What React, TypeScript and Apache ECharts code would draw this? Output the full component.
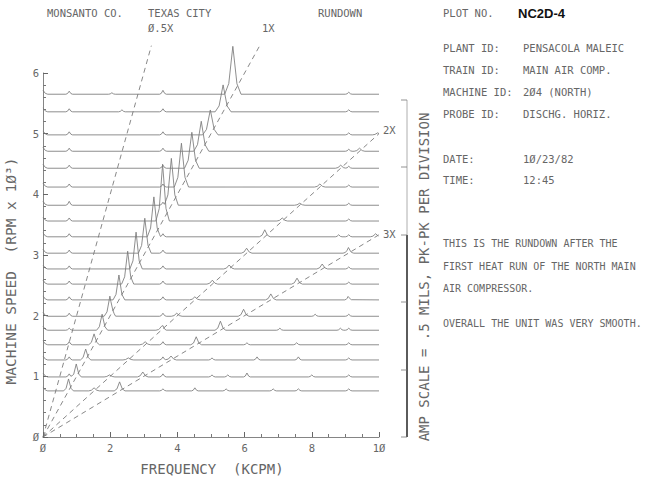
import React, { useEffect, useRef } from 'react';
import * as echarts from 'echarts';

// Machine speed of each rundown trace (RPM x 10^3), bottom to top
const rpm = [0.76, 0.99, 1.27, 1.52, 1.76, 1.99, 2.26, 2.52, 2.77, 3.03, 3.30, 3.56, 3.82, 4.12, 4.43, 4.71, 4.98, 5.36, 5.65];
// Amplitudes in mils pk-pk, one per trace
const amp1X = [0.082, 0.089, 0.075, 0.075, 0.110, 0.137, 0.171, 0.226, 0.253, 0.240, 0.274, 0.390, 0.322, 0.301, 0.247, 0.206, 0.171, 0.185, 0.329];
const amp2X = [0.021, 0.014, 0.014, 0.021, 0.021, 0.021, 0.021, 0.027, 0.027, 0.034, 0.048, 0.021, 0.014, 0.021, 0.021, 0.021, 0.014, 0, 0];
const amp3X = [0.062, 0.034, 0.027, 0.055, 0.062, 0.048, 0.041, 0.041, 0.034, 0.027, 0.021, 0, 0, 0, 0, 0, 0, 0, 0];
// Fixed-frequency components (kCPM) present in every trace
const fixedFreq = [0.78, 3.57, 9.1];
const ampFixA = [0, 0.021, 0.021, 0.021, 0.014, 0.021, 0.021, 0.021, 0.021, 0.021, 0.021, 0.021, 0.027, 0.021, 0.021, 0.021, 0.021, 0.021, 0.021];
const ampFixB = [0.014, 0.021, 0.021, 0.021, 0.021, 0.021, 0.021, 0.021, 0.021, 0.021, 0.021, 0, 0.021, 0.021, 0.021, 0.021, 0.021, 0.021, 0.027];
const ampFixC = [0.014, 0.014, 0.014, 0.014, 0.014, 0.014, 0.014, 0.014, 0.014, 0.014, 0.014, 0.014, 0.014, 0.014, 0.014, 0.014, 0.014, 0.014, 0.014];
const ampDC = 0.027;
// Other small peaks per trace: [kCPM, mils]
const otherPeaks = [
  [[4.52, 0.021], [5.45, 0.014], [6.85, 0.014], [7.6, 0.014]],
  [[5.03, 0.014], [5.5, 0.014], [6.07, 0.027], [8.0, 0.014]],
  [[5.03, 0.014], [6.37, 0.021], [7.6, 0.021]],
  [[6.07, 0.014], [7.55, 0.014]],
  [[7.05, 0.014], [8.85, 0.014]],
  [[2.07, 0.014], [8.1, 0.014]],
  [[9.08, 0.014]],
  [], [], [], [[8.8, 0.014]], [], [], [], [], [], [], [[2.35, 0.014]], [[2.05, 0.010]],
];

const orderLabels = ['Ø.5X', '1X', '2X', '3X'];
const orderRatio = [0.5, 1, 2, 3];
const xTickLabels = ['Ø', '2', '4', '6', '8', '1Ø'];
const yTickLabels = ['Ø', '1', '2', '3', '4', '5', '6'];

const MIL_TO_Y = 2.4; // vertical units per mil on the RPM axis (0.5 mil per division)

function kernel(d: number) {
  if (d >= 1) return 0;
  if (d <= 0.5) return 1 - 1.56 * d;
  return 0.22 * (1 - d) / 0.5;
}

function buildTrace(i: number) {
  const r = rpm[i];
  const w1 = 0.13 + 0.02 * r;
  const peaks: number[][] = [
    [0, ampDC, 0.14],
    [r, amp1X[i], w1],
    [2 * r, amp2X[i], 0.16],
    [3 * r, amp3X[i], 0.16],
    [fixedFreq[0], ampFixA[i], 0.1],
    [fixedFreq[1], ampFixB[i], 0.1],
    [fixedFreq[2], ampFixC[i], 0.1],
    ...otherPeaks[i].map((p) => [p[0], p[1], 0.1]),
  ].filter((p) => p[1] > 0 && p[0] - p[2] < 10);
  const xs = new Set<number>([0, 10]);
  peaks.forEach(([f, , w]) => {
    [f - w, f - w / 2, f, f + w / 2, f + w].forEach((x) => {
      if (x >= 0 && x <= 10) xs.add(Math.round(x * 1000) / 1000);
    });
  });
  const arr = Array.from(xs).sort((a, b) => a - b);
  return arr.map((x) => {
    let y = r;
    peaks.forEach(([f, a, w]) => {
      y += kernel(Math.abs(x - f) / w) * a * MIL_TO_Y;
    });
    return [x, y];
  });
}

const FONT = 'DejaVu Sans Mono';
const TXT = '#666';

export default function App() {
  const ref = useRef<HTMLDivElement>(null);
  useEffect(() => {
    if (!ref.current) return;
    const chart = echarts.init(ref.current, null, { renderer: 'svg' });

    const traceSeries = rpm.map((_, i) => ({
      type: 'line',
      data: buildTrace(i),
      symbol: 'none',
      clip: false,
      silent: true,
      lineStyle: { color: '#7a7a7a', width: 0.85 },
      z: 3,
    }));

    const orderEnds = [6.45, 6.45, 5, 3.333];
    const orderSeries = orderRatio.map((k, i) => {
      const yEnd = Math.min(orderEnds[i], 10 / k);
      return {
        type: 'line',
        data: [[0, 0], [yEnd * k, yEnd]],
        symbol: 'none',
        clip: false,
        silent: true,
        lineStyle: { color: '#6a6a6a', width: 0.8, type: [5, 4] },
        z: 2,
      };
    });

    const t = (text: string, x: number, y: number, size = 10.5) => ({
      type: 'text',
      x,
      y,
      style: {
        text,
        fill: TXT,
        font: `${size}px "${FONT}"`,
        textVerticalAlign: 'middle',
      },
    });

    const rightCol = [
      ['PLANT ID:', 'PENSACOLA MALEIC', 48],
      ['TRAIN ID:', 'MAIN AIR COMP.', 70],
      ['MACHINE ID:', '2Ø4 (NORTH)', 92],
      ['PROBE ID:', 'DISCHG. HORIZ.', 114],
      ['DATE:', '1Ø/23/82', 159],
      ['TIME:', '12:45', 180],
    ];
    const notes = [
      ['THIS IS THE RUNDOWN AFTER THE', 243],
      ['FIRST HEAT RUN OF THE NORTH MAIN', 266],
      ['AIR COMPRESSOR.', 288],
      ['OVERALL THE UNIT WAS VERY SMOOTH.', 323],
    ];

    const barX = 407;
    const barTicks = [100, 167, 235, 302, 370, 437];

    const graphic: any[] = [
      t('MONSANTO CO.', 47, 13),
      t('TEXAS CITY', 148, 13),
      t('RUNDOWN', 318, 13),
      t('PLOT NO.', 443, 13),
      {
        type: 'text', x: 518, y: 13,
        style: { text: 'NC2D-4', fill: '#111', font: 'bold 13px "Liberation Sans"', textVerticalAlign: 'middle' },
      },
      t(orderLabels[0], 148, 28),
      t(orderLabels[1], 262, 28),
      t(orderLabels[2], 383, 130),
      t(orderLabels[3], 383, 234),
      ...rightCol.flatMap(([a, b, y]) => [t(a as string, 443, y as number), t(b as string, 523, y as number)]),
      ...notes.map(([s, y]) => t(s as string, 443, y as number, 10)),
      {
        type: 'text', x: 212, y: 469,
        style: { text: 'FREQUENCY  (KCPM)', fill: TXT, font: `14px "${FONT}"`, textAlign: 'center', textVerticalAlign: 'middle' },
      },
      {
        type: 'text', x: 11, y: 271, rotation: Math.PI / 2,
        style: { text: 'MACHINE SPEED  (RPM x 1Ø³)', fill: TXT, font: `14.5px "${FONT}"`, textAlign: 'center', textVerticalAlign: 'middle' },
      },
      {
        type: 'text', x: 424, y: 277, rotation: Math.PI / 2,
        style: { text: 'AMP SCALE = .5 MILS, PK-PK PER DIVISION', fill: TXT, font: `14px "${FONT}"`, textAlign: 'center', textVerticalAlign: 'middle' },
      },
      { type: 'line', shape: { x1: barX, y1: 100, x2: barX, y2: 235 }, style: { stroke: '#999', lineWidth: 0.8 } },
      { type: 'line', shape: { x1: barX, y1: 235, x2: barX, y2: 437 }, style: { stroke: '#333', lineWidth: 1.6 } },
      ...barTicks.map((y) => ({ type: 'line', shape: { x1: barX - 6, y1: y, x2: barX, y2: y }, style: { stroke: '#777', lineWidth: 0.8 } })),
    ];

    chart.setOption({
      animation: false,
      backgroundColor: '#fff',
      grid: { left: 43, top: 73, width: 336, height: 364 },
      xAxis: {
        type: 'value', min: 0, max: 10, interval: 2,
        axisLine: { lineStyle: { color: '#666', width: 0.8 } },
        axisTick: { inside: true, length: 5, lineStyle: { color: '#666' } },
        minorTick: { show: true, splitNumber: 4, length: 3, lineStyle: { color: '#777' } },
        splitLine: { show: false },
        axisLabel: { formatter: (v: number) => xTickLabels[Math.round(v / 2)], color: TXT, fontFamily: FONT, fontSize: 10.5, margin: 5 },
      },
      yAxis: {
        type: 'value', min: 0, max: 6, interval: 1,
        axisLine: { show: true, lineStyle: { color: '#666', width: 0.8 } },
        axisTick: { show: true, inside: true, length: 5, lineStyle: { color: '#666' } },
        minorTick: { show: true, splitNumber: 5, length: 3, lineStyle: { color: '#777' } },
        splitLine: { show: false },
        axisLabel: { formatter: (v: number) => yTickLabels[Math.round(v)], color: TXT, fontFamily: FONT, fontSize: 10.5, margin: 4 },
      },
      series: [...orderSeries, ...traceSeries],
      graphic,
    });
    return () => chart.dispose();
  }, []);
  return <div ref={ref} style={{ position: 'fixed', left: 0, top: 0, width: 648, height: 482 }} />;
}
